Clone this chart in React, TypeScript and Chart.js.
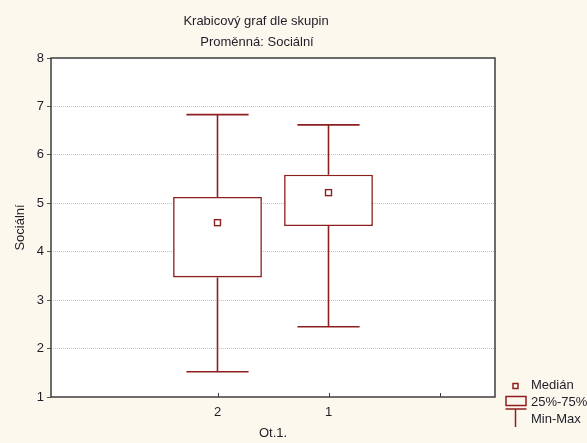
import React, { useEffect, useRef } from 'react';
import { Chart, registerables } from 'chart.js';

Chart.register(...registerables);

const categories = ['', '2', '1', ''];
const minValues = [null, 1.52, 2.45, null];
const q1Values = [null, 3.47, 4.53, null];
const medianValues = [null, 4.6, 5.22, null];
const q3Values = [null, 5.13, 5.59, null];
const maxValues = [null, 6.83, 6.62, null];
const yTickValues = [1, 2, 3, 4, 5, 6, 7, 8];
const titleLines = ['Krabicový graf dle skupin', 'Proměnná: Sociální'];
const legendLabels = ['Medián', '25%-75%', 'Min-Max'];
const xAxisTitle = 'Ot.1.';
const yAxisTitle = 'Sociální';

const RED = '#8e1f1f';
const BG = '#fdf8ee';
const TEXT = '#1e1e28';
const FRAME = '#3c3c3c';
const FONT = "'Liberation Sans', Arial, sans-serif";

const boxPlugin = {
  id: 'boxDecor',
  beforeDraw(chart: any) {
    const { ctx, chartArea: a, width, height } = chart;
    ctx.save();
    ctx.fillStyle = BG;
    ctx.fillRect(0, 0, width, height);
    ctx.fillStyle = '#ffffff';
    ctx.fillRect(a.left, a.top, a.right - a.left, a.bottom - a.top);
    ctx.restore();
  },
  afterDatasetsDraw(chart: any) {
    const { ctx } = chart;
    const ys = chart.scales.y;
    const meta = chart.getDatasetMeta(0);
    ctx.save();
    ctx.strokeStyle = RED;
    ctx.lineWidth = 1.6;
    meta.data.forEach((bar: any, i: number) => {
      if (q1Values[i] == null) return;
      const { x, width } = bar.getProps(['x', 'width'], true);
      const cap = width * 0.7;
      const yMin = ys.getPixelForValue(minValues[i]);
      const yQ1 = ys.getPixelForValue(q1Values[i]);
      const yMed = ys.getPixelForValue(medianValues[i]);
      const yQ3 = ys.getPixelForValue(q3Values[i]);
      const yMax = ys.getPixelForValue(maxValues[i]);
      ctx.beginPath();
      ctx.moveTo(x, yMax);
      ctx.lineTo(x, yQ3);
      ctx.moveTo(x, yQ1);
      ctx.lineTo(x, yMin);
      ctx.moveTo(x - cap / 2, yMax);
      ctx.lineTo(x + cap / 2, yMax);
      ctx.moveTo(x - cap / 2, yMin);
      ctx.lineTo(x + cap / 2, yMin);
      ctx.stroke();
      ctx.fillStyle = '#ffffff';
      ctx.fillRect(x - 3, yMed - 3, 6, 6);
      ctx.lineWidth = 1.4;
      ctx.strokeRect(x - 3, yMed - 3, 6, 6);
      ctx.lineWidth = 1.6;
    });
    ctx.restore();
  },
  afterDraw(chart: any) {
    const { ctx, chartArea: a } = chart;
    const xs = chart.scales.x;
    ctx.save();
    // frame
    ctx.strokeStyle = FRAME;
    ctx.lineWidth = 1.5;
    ctx.strokeRect(a.left, a.top, a.right - a.left, a.bottom - a.top);
    // inward x tick marks
    ctx.lineWidth = 1;
    ctx.beginPath();
    for (let i = 1; i < categories.length; i++) {
      const px = Math.round(xs.getPixelForTick(i)) + 0.5;
      ctx.moveTo(px, a.bottom);
      ctx.lineTo(px, a.bottom - 4);
    }
    ctx.stroke();
    // title
    ctx.fillStyle = TEXT;
    ctx.font = `13px ${FONT}`;
    ctx.textAlign = 'center';
    ctx.textBaseline = 'alphabetic';
    const cx = (a.left + a.right) / 2 - 17;
    ctx.fillText(titleLines[0], cx, 25);
    ctx.fillText(titleLines[1], cx + 1, 46);
    // legend
    const lx = 515.5;
    ctx.strokeStyle = RED;
    ctx.lineWidth = 1.5;
    ctx.strokeRect(lx - 2.5, 383.5, 5, 5);
    ctx.strokeRect(lx - 9.5, 396.5, 20, 9);
    ctx.beginPath();
    ctx.moveTo(lx - 10, 409);
    ctx.lineTo(lx + 11, 409);
    ctx.moveTo(lx, 409);
    ctx.lineTo(lx, 427);
    ctx.stroke();
    ctx.fillStyle = TEXT;
    ctx.textAlign = 'left';
    ctx.textBaseline = 'middle';
    ctx.fillText(legendLabels[0], 531, 385);
    ctx.fillText(legendLabels[1], 531, 402);
    ctx.fillText(legendLabels[2], 531, 419);
    ctx.restore();
  },
};

export default function App() {
  const ref = useRef<HTMLCanvasElement | null>(null);
  useEffect(() => {
    document.body.style.margin = '0';
    const canvas = ref.current;
    if (!canvas) return;
    const chart = new Chart(canvas, {
      type: 'bar',
      data: {
        labels: categories,
        datasets: [
          {
            label: 'box',
            data: categories.map((_, i) =>
              q1Values[i] == null ? null : [q1Values[i] as number, q3Values[i] as number]
            ) as any,
            backgroundColor: '#ffffff',
            borderColor: RED,
            borderWidth: 1.6,
            borderSkipped: false,
            categoryPercentage: 1,
            barPercentage: 0.8,
          },
        ],
      },
      options: {
        animation: false,
        responsive: false,
        devicePixelRatio: 1,
        layout: { padding: { top: 58, right: 92, bottom: 0, left: 0 } },
        plugins: {
          legend: { display: false },
          tooltip: { enabled: false },
          title: { display: false },
        },
        scales: {
          x: {
            type: 'category',
            offset: true,
            grid: { display: false, drawTicks: false },
            border: { display: false },
            ticks: { color: TEXT, font: { family: FONT, size: 13 }, padding: 8, maxRotation: 0, autoSkip: false },
            title: { display: true, text: xAxisTitle, color: TEXT, font: { family: FONT, size: 13 }, padding: { top: 0, bottom: 2 } },
            afterFit(scale: any) {
              scale.height = 46;
            },
          },
          y: {
            type: 'linear',
            min: 1,
            max: 8,
            afterBuildTicks(scale: any) {
              scale.ticks = yTickValues.map((v) => ({ value: v }));
            },
            grid: {
              color: (c: any) => (c.tick && (c.tick.value === 1 || c.tick.value === 8) ? 'rgba(0,0,0,0)' : '#c4c4c4'),
              lineWidth: 1,
              drawTicks: true,
              tickLength: 4,
              tickColor: '#555555',
            },
            border: { display: false, dash: [1, 1] },
            ticks: { color: TEXT, font: { family: FONT, size: 13 }, padding: 3 },
            title: { display: true, text: yAxisTitle, color: TEXT, font: { family: FONT, size: 13 }, padding: { top: 13, bottom: 0 } },
            afterFit(scale: any) {
              scale.width = 51;
            },
          },
        },
      },
      plugins: [boxPlugin],
    });
    return () => chart.destroy();
  }, []);
  return <canvas ref={ref} width={587} height={443} style={{ display: 'block', width: 587, height: 443 }} />;
}
